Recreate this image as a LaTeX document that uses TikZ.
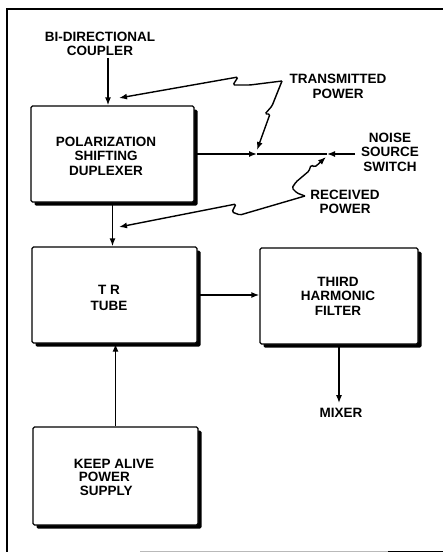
\documentclass[tikz,border=0pt]{standalone}
\usepackage{fontspec}
\setmainfont{Liberation Sans}
\usetikzlibrary{shadows,arrows.meta}
\begin{document}
\begin{tikzpicture}[x=1pt,y=-1pt,
 box/.style={draw,fill=white,line width=1.4pt,rounded corners=1.5pt,inner sep=0pt,
   drop shadow={shadow xshift=3.5pt,shadow yshift=-3.5pt,fill=black,opacity=1}},
 lbl/.style={font=\bfseries\fontsize{13.5}{14.5}\selectfont,align=center,inner sep=0pt},
 arr/.style={line width=1.4pt,-{Latex[length=8pt,width=6pt]}},
 ln/.style={line width=1.4pt},
 zig/.style={line width=1.4pt,rounded corners=1.5pt,-{Latex[length=8pt,width=6pt]}}]
\useasboundingbox (0,0) rectangle (443,552);
% frame
\draw[line width=1.8pt] (443,9) -- (7,9) -- (7,552);
\draw[gray!55,line width=1pt] (140,551) -- (388,551);
\draw[line width=1pt] (388,551) -- (443,551);
% boxes
\node[box,minimum width=163pt,minimum height=96pt] (psd) at (112.5,154) {};
\node[lbl] (psdL) at (106,156) {POLARIZATION\\SHIFTING\\DUPLEXER};
\node[box,minimum width=165pt,minimum height=96pt] (tr) at (114.5,295) {};
\node[lbl,font=\bfseries\fontsize{13.5}{16}\selectfont] (trL) at (109,298) {T R\\TUBE};
\node[box,minimum width=158pt,minimum height=96pt] (thf) at (339,296) {};
\node[lbl] (thfL) at (338,296) {THIRD\\HARMONIC\\FILTER};
\node[box,minimum width=165pt,minimum height=98pt] (ka) at (115.5,476) {};
\node[lbl,align=left,font=\bfseries\fontsize{13.5}{13.5}\selectfont] (kaL) at (114,477) {KEEP ALIVE\\\hspace*{5pt}POWER\\\hspace*{6pt}SUPPLY};
% labels
\node[lbl] (cpl) at (100,44) {BI-DIRECTIONAL\\COUPLER};
\node[lbl] (txp) at (338,86.5) {TRANSMITTED\\POWER};
\node[lbl] (rxp) at (345,202) {RECEIVED\\POWER};
\node[lbl] (nss) at (390,152) {NOISE\\SOURCE\\SWITCH};
\node[lbl] (mix) at (341,413) {MIXER};
% connectors
\coordinate (cplA) at (108,58);
\draw[arr] (cplA) -- (cplA |- psd.north);
\draw[arr] (psd.south) -- (psd.south |- tr.north);
\draw[arr] (tr.east) -- (tr.east -| thf.west);
\draw[arr,shorten >=5pt] (thf.south) -- (thf.south |- mix.north);
\draw[arr] (ka.north) -- (ka.north |- tr.south);
\coordinate (tA) at (257,154);
\coordinate (rA) at (327,154);
\coordinate (nE) at (355,154);
\draw[arr] (psd.east) -- (tA);
\draw[ln] (tA) -- (rA);
\draw[arr] (nE) -- (rA);
% power squiggles
\coordinate (tj) at (282,81);
\draw[zig] (tj) -- (250,85) -- (233,85) -- (238,77) -- (119,98);
\draw[zig] (tj) -- (272,106) -- (265,114) -- (270,114) -- (257,150);
\coordinate (rj) at (305,196);
\draw[zig] (rj) -- (297,193) -- (292,188) -- (296,182) -- (309,171) -- (311,165) -- (315,167) -- (326,157);
\draw[zig] (rj) -- (240,215) -- (232,212) -- (236,204) -- (119,227);
\end{tikzpicture}
\end{document}
